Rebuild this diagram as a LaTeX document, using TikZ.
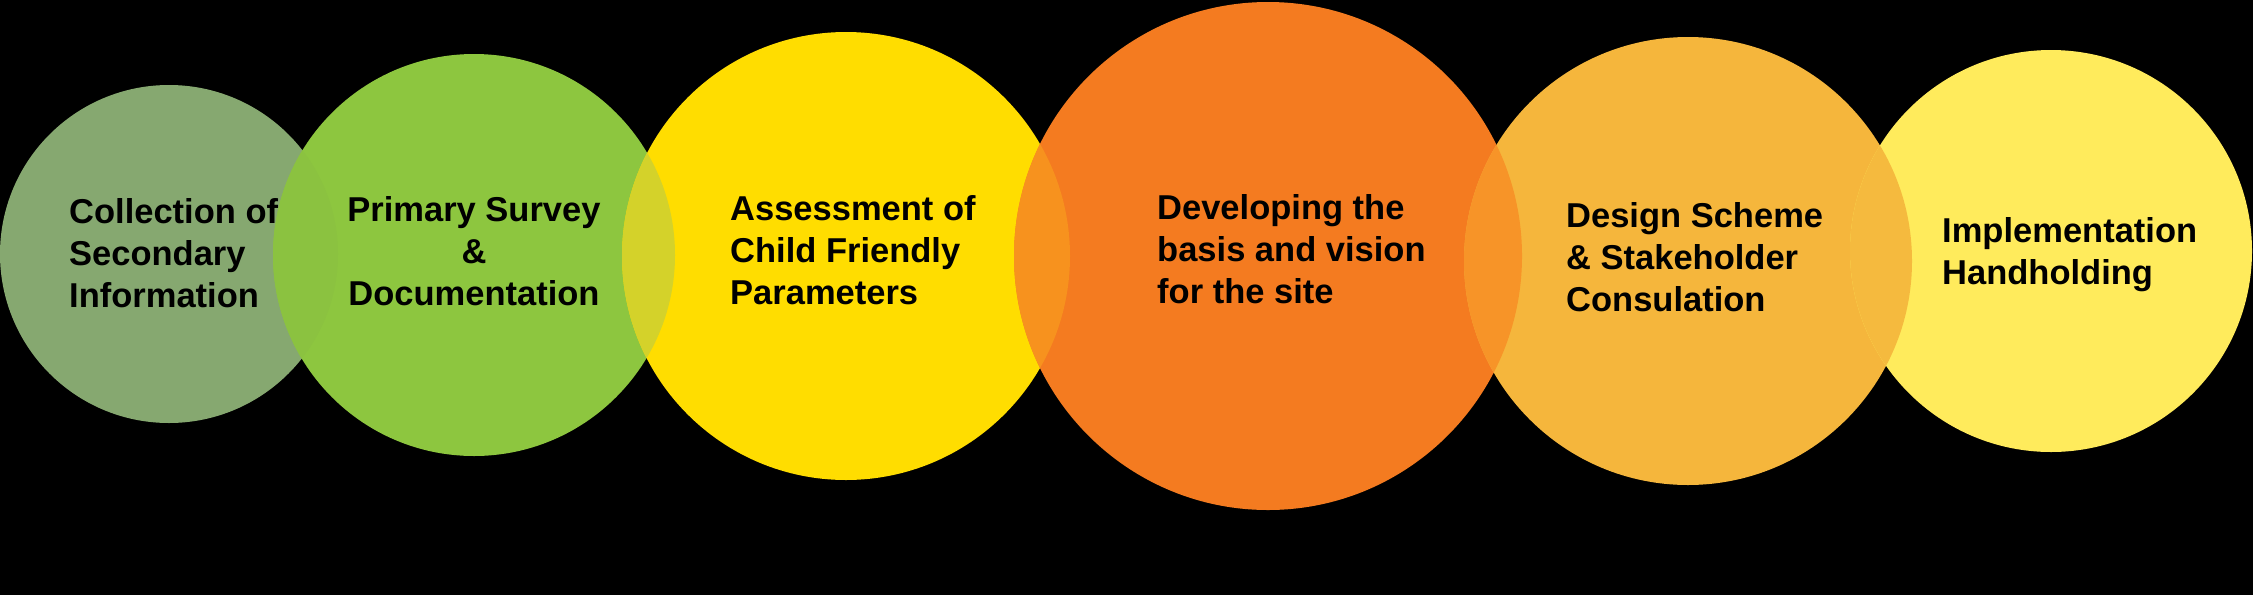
\documentclass[tikz,border=0pt]{standalone}
\usepackage{fontspec}
\setmainfont{Liberation Sans}
\definecolor{bg}{RGB}{0,0,0}
\definecolor{cA}{RGB}{134,168,112}
\definecolor{cB}{RGB}{141,198,63}
\definecolor{cC}{RGB}{255,221,0}
\definecolor{cD}{RGB}{244,123,32}
\definecolor{cE}{RGB}{245,182,60}
\definecolor{cF}{RGB}{255,235,92}
\definecolor{lAB}{RGB}{139,194,64}
\definecolor{lBC}{RGB}{212,210,42}
\definecolor{lCD}{RGB}{247,146,30}
\definecolor{lDE}{RGB}{247,148,40}
\definecolor{lEF}{RGB}{245,186,62}
\begin{document}
\begin{tikzpicture}[x=1pt,y=-1pt,
  bub/.style={circle,inner sep=0pt,outer sep=0pt,draw=none},
  lbl/.style={inner sep=0pt,text=black,font={\fontsize{34.5}{42}\selectfont\bfseries}}]
\fill[bg] (0,0) rectangle (2253,595);
\useasboundingbox (0,0) rectangle (2253,595);
% bubbles
\node[bub,fill=cA,minimum size=338pt] (b1) at (169,254) {};
\node[bub,fill=cB,minimum size=402pt] (b2) at (474,255) {};
\node[bub,fill=cC,minimum size=448pt] (b3) at (846,256) {};
\node[bub,fill=cD,minimum size=508pt] (b4) at (1268,256) {};
\node[bub,fill=cE,minimum size=448pt] (b5) at (1688,261) {};
\node[bub,fill=cF,minimum size=402pt] (b6) at (2051,251) {};
% overlaps
\begin{scope}\clip (b1.center) circle[radius=169pt]; \fill[lAB] (b2.center) circle[radius=201pt];\end{scope}
\begin{scope}\clip (b2.center) circle[radius=201pt]; \fill[lBC] (b3.center) circle[radius=224pt];\end{scope}
\begin{scope}\clip (b3.center) circle[radius=224pt]; \fill[lCD] (b4.center) circle[radius=254pt];\end{scope}
\begin{scope}\clip (b4.center) circle[radius=254pt]; \fill[lDE] (b5.center) circle[radius=224pt];\end{scope}
\begin{scope}\clip (b5.center) circle[radius=224pt]; \fill[lEF] (b6.center) circle[radius=201pt];\end{scope}
% labels (anchor base = baseline of the last line)
\node[lbl,anchor=base west,align=left] (t1) at (69,307) {Collection of\\Secondary\\Information};
\node[lbl,anchor=base,align=center] (t2) at (474,305) {Primary Survey\\\&\\Documentation};
\node[lbl,anchor=base west,align=left] (t3) at (730,304) {Assessment of\\Child Friendly\\Parameters};
\node[lbl,anchor=base west,align=left] (t4) at (1157,303) {Developing the\\basis and vision\\for the site};
\node[lbl,anchor=base west,align=left] (t5) at (1566,311) {Design Scheme\\\& Stakeholder\\Consulation};
\node[lbl,anchor=base west,align=left] (t6) at (1942,284) {Implementation\\Handholding};
\end{tikzpicture}
\end{document}
